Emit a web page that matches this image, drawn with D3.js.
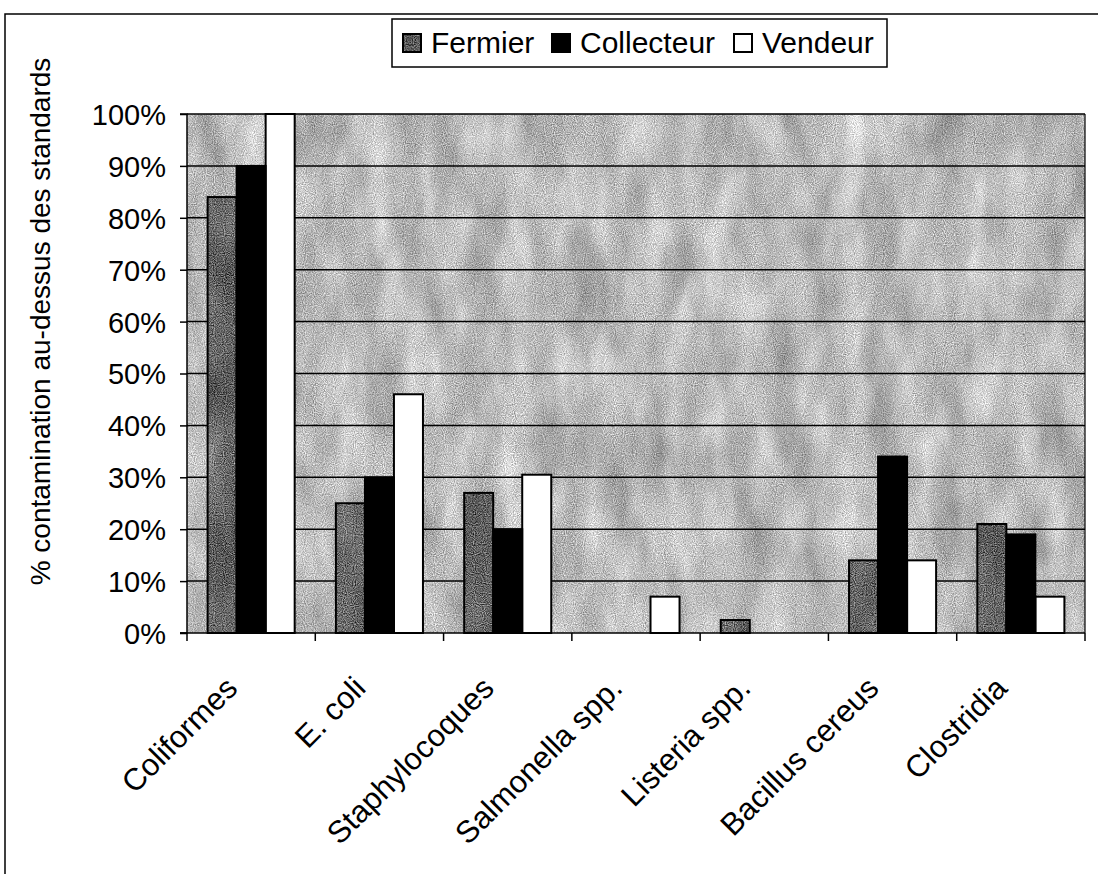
<!DOCTYPE html>
<html>
<head>
<meta charset="utf-8">
<script src="https://cdn.jsdelivr.net/npm/d3@7"></script>
<style>
  html, body { margin: 0; padding: 0; background: #fff; }
  svg { display: block; font-family: "Liberation Sans", Arial, sans-serif; }
</style>
</head>
<body>
<svg id="chart" width="1098" height="874"></svg>
<script>
const categories = ["Coliformes", "E. coli", "Staphylocoques", "Salmonella spp.", "Listeria spp.", "Bacillus cereus", "Clostridia"];
const seriesNames = ["Fermier", "Collecteur", "Vendeur"];
const fermier    = [84, 25, 27, 0, 2.5, 14, 21];
const collecteur = [90, 30, 20, 0, 0, 34, 19];
const vendeur    = [100, 46, 30.5, 7, 0, 14, 7];
const yTicks = [0, 10, 20, 30, 40, 50, 60, 70, 80, 90, 100];
const yTitle = "% contamination au-dessus des standards";

const seriesValues = { Fermier: fermier, Collecteur: collecteur, Vendeur: vendeur };

const svg = d3.select("#chart");
const W = 1098, H = 874;
const plot = { left: 187, right: 1085, top: 114, bottom: 633 };

// ---- textures ----
const defs = svg.append("defs");
function grain(id, base, k, wCoarse, seed) {
  const f = defs.append("filter").attr("id", id)
    .attr("x", 0).attr("y", 0).attr("width", 1).attr("height", 1)
    .attr("filterUnits", "objectBoundingBox")
    .attr("color-interpolation-filters", "sRGB");
  f.append("feTurbulence").attr("type", "fractalNoise").attr("baseFrequency", 0.9)
    .attr("numOctaves", 1).attr("seed", seed).attr("result", "fine");
  f.append("feTurbulence").attr("type", "fractalNoise").attr("baseFrequency", "0.03 0.012")
    .attr("numOctaves", 3).attr("seed", seed + 7).attr("result", "coarse");
  const wf = 1 - wCoarse;
  f.append("feComposite").attr("in", "fine").attr("in2", "coarse").attr("operator", "arithmetic")
    .attr("k1", 0).attr("k2", wf).attr("k3", wCoarse).attr("k4", 0).attr("result", "mix");
  const o = base - 0.5 * k;
  f.append("feColorMatrix").attr("in", "mix").attr("type", "matrix")
    .attr("values", `${k} 0 0 0 ${o}  ${k} 0 0 0 ${o}  ${k} 0 0 0 ${o}  0 0 0 0 1`)
    .attr("result", "gray");
  f.append("feComposite").attr("in", "gray").attr("in2", "SourceGraphic").attr("operator", "in");
}
grain("bgTex", 0.73, 1.1, 0.35, 3);
grain("barTex", 0.38, 1.3, 0.2, 11);

// ---- outer chart border ----
svg.append("path").attr("d", `M5,${H} V14 H${W}`).attr("fill", "none")
  .attr("stroke", "#000").attr("stroke-width", 1.5);

// ---- scales ----
const x0 = d3.scaleBand().domain(categories).range([plot.left, plot.right]).padding(0);
const x1 = d3.scaleBand().domain(seriesNames).range([0, x0.bandwidth()]).paddingInner(0).paddingOuter(0.71);
const y = d3.scaleLinear().domain([0, 100]).range([plot.bottom, plot.top]);

// ---- plot background ----
svg.append("rect").attr("x", plot.left).attr("y", plot.top)
  .attr("width", plot.right - plot.left).attr("height", plot.bottom - plot.top)
  .attr("fill", "#aaa").attr("filter", "url(#bgTex)");

// ---- gridlines ----
svg.append("g").selectAll("line").data(yTicks.filter(d => d > 0)).join("line")
  .attr("x1", plot.left).attr("x2", plot.right)
  .attr("y1", d => y(d)).attr("y2", d => y(d))
  .attr("stroke", "#000").attr("stroke-width", 1.5);

// right border of plot
svg.append("line").attr("x1", plot.right).attr("x2", plot.right)
  .attr("y1", plot.top).attr("y2", plot.bottom).attr("stroke", "#000").attr("stroke-width", 1.2);

// ---- bars ----
const fillFor = { Fermier: "#6a6a6a", Collecteur: "#000", Vendeur: "#fff" };
const barData = [];
categories.forEach((c, i) => seriesNames.forEach(s => {
  const v = seriesValues[s][i];
  if (v > 0) barData.push({ c, s, v });
}));
svg.append("g").selectAll("rect").data(barData).join("rect")
  .attr("x", d => x0(d.c) + x1(d.s))
  .attr("y", d => y(d.v))
  .attr("width", x1.bandwidth())
  .attr("height", d => y(0) - y(d.v))
  .attr("fill", d => fillFor[d.s])
  .attr("filter", d => d.s === "Fermier" ? "url(#barTex)" : null);
// outlines
svg.append("g").selectAll("rect").data(barData).join("rect")
  .attr("x", d => x0(d.c) + x1(d.s))
  .attr("y", d => y(d.v))
  .attr("width", x1.bandwidth())
  .attr("height", d => y(0) - y(d.v))
  .attr("fill", "none").attr("stroke", "#000").attr("stroke-width", 2);

// ---- axes ----
const yAxis = d3.axisLeft(y).tickValues(yTicks).tickFormat(d => d + "%").tickSize(7).tickPadding(14);
const gy = svg.append("g").attr("transform", `translate(${plot.left},0)`).call(yAxis);
gy.select(".domain").attr("stroke", "#000").attr("stroke-width", 1.5).attr("d", `M-7,${plot.top}H0V${plot.bottom}H-7`);
gy.selectAll(".tick line").attr("stroke", "#000").attr("stroke-width", 1.5);
gy.selectAll(".tick text").attr("font-size", 29).attr("fill", "#000")
  .attr("font-family", "'Liberation Sans', Arial, sans-serif").attr("dy", "0.36em");

// x axis with ticks at category boundaries
const boundaries = categories.map(c => x0(c)).concat([plot.right]);
const gx = svg.append("g");
gx.append("line").attr("x1", plot.left - 7).attr("x2", plot.right)
  .attr("y1", plot.bottom).attr("y2", plot.bottom).attr("stroke", "#000").attr("stroke-width", 1.5);
gx.selectAll("line.tk").data(boundaries).join("line").attr("class", "tk")
  .attr("x1", d => d).attr("x2", d => d)
  .attr("y1", plot.bottom).attr("y2", plot.bottom + 8)
  .attr("stroke", "#000").attr("stroke-width", 1.5);
gx.selectAll("text").data(categories).join("text")
  .attr("transform", c => `translate(${x0(c) + x0.bandwidth() / 2 - 12},${plot.bottom + 57}) rotate(-45)`)
  .attr("text-anchor", "end")
  .attr("font-size", 31).attr("fill", "#000")
  .text(c => c);

// ---- y title ----
svg.append("text")
  .attr("transform", `translate(50,${(55 + 588) / 2}) rotate(-90)`)
  .attr("text-anchor", "middle").attr("font-size", 28).attr("fill", "#000")
  .text(yTitle);

// ---- legend ----
const lg = svg.append("g");
lg.append("rect").attr("x", 392).attr("y", 19).attr("width", 495).attr("height", 48)
  .attr("fill", "#fff").attr("stroke", "#000").attr("stroke-width", 1.5);
const legendX = { Fermier: 403, Collecteur: 552, Vendeur: 734 };
seriesNames.forEach(s => {
  const gx0 = legendX[s];
  lg.append("rect").attr("x", gx0).attr("y", 34).attr("width", 18).attr("height", 18)
    .attr("fill", s === "Fermier" ? "#999" : fillFor[s]).attr("filter", s === "Fermier" ? "url(#barTex)" : null);
  lg.append("rect").attr("x", gx0).attr("y", 34).attr("width", 18).attr("height", 18)
    .attr("fill", "none").attr("stroke", "#000").attr("stroke-width", 2);
  lg.append("text").attr("x", gx0 + 28).attr("y", 53).attr("font-size", 30).attr("fill", "#000").text(s);
});
</script>
</body>
</html>
